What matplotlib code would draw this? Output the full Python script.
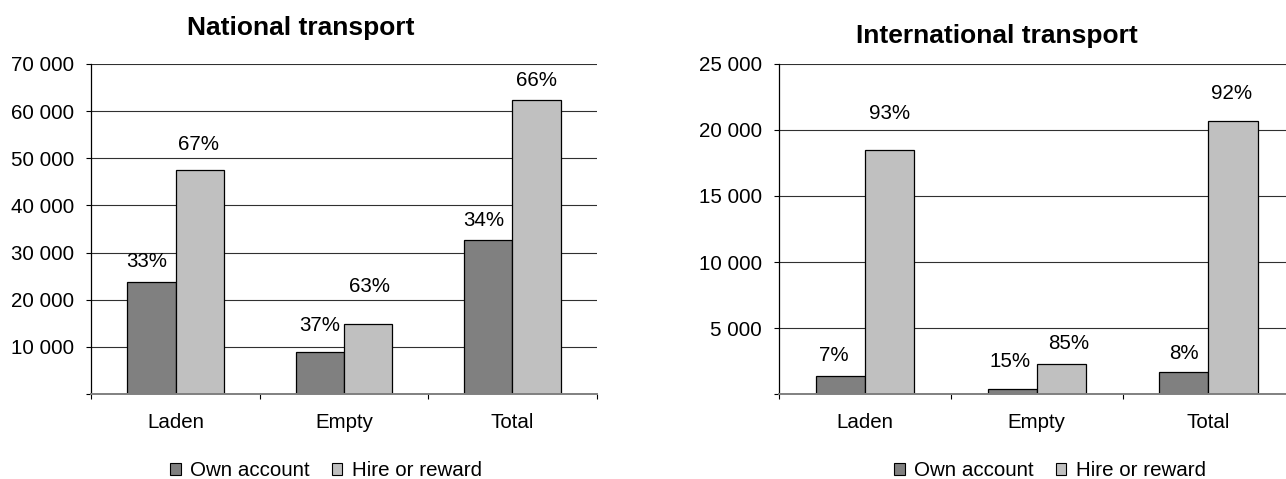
import matplotlib
matplotlib.use("Agg")
import matplotlib.pyplot as plt
from matplotlib.patches import Patch
import numpy as np

# ---- data -------------------------------------------------------------
categories = ["Laden", "Empty", "Total"]
series_names = ["Own account", "Hire or reward"]

national_own = [23700, 8900, 32600]
national_hire = [47500, 14900, 62400]

international_own = [1400, 400, 1700]
international_hire = [18450, 2250, 20650]

national_title = "National transport"
international_title = "International transport"
national_yticks = [0, 10000, 20000, 30000, 40000, 50000, 60000, 70000]
international_yticks = [0, 5000, 10000, 15000, 20000, 25000]

# ---- styling ----------------------------------------------------------
DPI = 100
W, H = 1286, 479
OWN_COLOR = "#808080"
HIRE_COLOR = "#C0C0C0"
BAR_W = 0.286
FS = 14.8
PX = 72.0 / DPI  # points per pixel

plt.rcParams["font.family"] = ["Liberation Sans", "DejaVu Sans"]

fig = plt.figure(figsize=(W / DPI, H / DPI), dpi=DPI)


def fmt_thousands(v):
    v = int(round(v))
    if v == 0:
        return ""
    return f"{v:,}".replace(",", " ")


def draw_panel(rect, own, hire, yticks, nudges):
    ax = fig.add_axes(rect)
    x = np.arange(len(categories))
    b_own = ax.bar(x - BAR_W / 2, own, BAR_W, color=OWN_COLOR,
                   edgecolor="black", linewidth=0.9, zorder=3)
    b_hire = ax.bar(x + BAR_W / 2, hire, BAR_W, color=HIRE_COLOR,
                    edgecolor="black", linewidth=0.9, zorder=3)

    ax.set_xlim(-0.5, len(categories) - 0.5)
    ax.set_ylim(yticks[0], yticks[-1])
    ax.set_yticks(yticks)
    ax.set_yticklabels([fmt_thousands(v) for v in yticks], fontsize=FS)
    ax.yaxis.grid(True, color="#303030", linewidth=0.8)
    ax.set_axisbelow(True)

    ax.set_xticks(x)
    ax.set_xticklabels(categories, fontsize=FS)
    ax.set_xticks(np.arange(len(categories) + 1) - 0.5, minor=True)
    ax.tick_params(axis="x", which="major", length=0, pad=14)
    ax.tick_params(axis="x", which="minor", length=3.8, width=0.8,
                   direction="out", color="black")
    ax.tick_params(axis="y", length=3.8, width=0.8, direction="out",
                   pad=8.6, color="black")

    for side in ("top", "right"):
        ax.spines[side].set_visible(False)
    ax.spines["left"].set_color("black")
    ax.spines["left"].set_linewidth(0.9)
    ax.spines["bottom"].set_color("#808080")
    ax.spines["bottom"].set_linewidth(1.4)
    ax.spines["bottom"].set_zorder(4)

    # share of each series within its category
    totals = [o + h for o, h in zip(own, hire)]
    for bars, vals, nud in ((b_own, own, nudges[0]), (b_hire, hire, nudges[1])):
        for bar, v, t, (dx, dy) in zip(bars, vals, totals, nud):
            pct = int(round(100.0 * v / t))
            ax.annotate(f"{pct}%",
                        xy=(bar.get_x() + bar.get_width() / 2, v),
                        xytext=(dx * PX, dy * PX), textcoords="offset points",
                        ha="center", va="center", fontsize=FS, zorder=5)
    return ax


# label nudges in pixels (dx, dy above bar top)
national_nudges = ([(-5, 21), (0, 27), (-5, 20)],
                   [(-1, 26), (1, 37), (0, 19)])
international_nudges = ([(-7, 20), (-2, 27), (0, 18)],
                        [(0, 37), (7, 21), (-1, 28)])

ax1 = draw_panel([91.3 / W, 85 / H, 505.4 / W, 330 / H],
                 national_own, national_hire, national_yticks, national_nudges)
ax2 = draw_panel([779.3 / W, 85 / H, 515.0 / W, 330 / H],
                 international_own, international_hire, international_yticks,
                 international_nudges)

fig.text(301 / W, 1 - 35 / H, national_title, ha="center", va="baseline",
         fontsize=19, fontweight="bold")
fig.text(996.7 / W, 1 - 43.3 / H, international_title, ha="center",
         va="baseline", fontsize=19, fontweight="bold")

handles = [Patch(facecolor=OWN_COLOR, edgecolor="black", linewidth=0.8),
           Patch(facecolor=HIRE_COLOR, edgecolor="black", linewidth=0.8)]
for cx in (326, 1050):
    fig.legend(handles, series_names, loc="center", ncol=2,
               bbox_to_anchor=(cx / W, 1 - 471 / H),
               bbox_transform=fig.transFigure, frameon=False, fontsize=FS,
               handlelength=0.5, handleheight=0.5, handletextpad=0.45,
               columnspacing=1.1, borderpad=0, borderaxespad=0)

fig.savefig("out.png", dpi=DPI)
